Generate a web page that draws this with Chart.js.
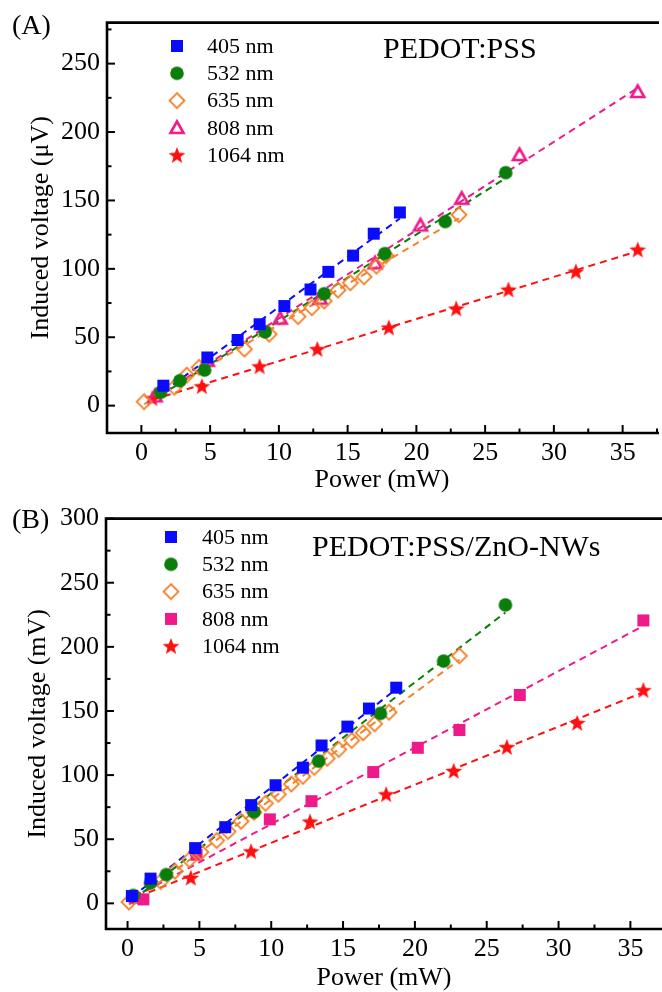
<!DOCTYPE html>
<html>
<head>
<meta charset="utf-8">
<script src="https://cdn.jsdelivr.net/npm/chart.js@4.4.1/dist/chart.umd.min.js"></script>
<style>
  html, body { margin: 0; padding: 0; background: #fff; }
  canvas { display: block; }
</style>
</head>
<body>
<canvas id="cA" width="662" height="496"></canvas>
<canvas id="cB" width="662" height="496"></canvas>
<script>
// ---------------- DATA ----------------
const seriesNames = ['405 nm', '532 nm', '635 nm', '808 nm', '1064 nm'];

// Panel A : PEDOT:PSS  (Power mW, Induced voltage µV)
const a405x  = [1.6, 4.8, 7.0, 8.6, 10.4, 12.3, 13.6, 15.4, 16.9, 18.8];
const a405y  = [14.6, 35.2, 48.0, 59.5, 72.8, 84.9, 97.8, 109.7, 125.7, 141.2];
const a532x  = [1.4, 2.8, 4.6, 9.0, 13.3, 17.7, 22.1, 26.5];
const a532y  = [9.7, 18.2, 26.0, 53.9, 81.8, 111.1, 134.6, 170.3];
const a635x  = [0.2, 2.4, 3.3, 4.2, 7.5, 9.3, 11.4, 12.4, 13.3, 14.3, 15.2, 16.2, 17.1, 17.8, 23.1];
const a635y  = [2.9, 13.4, 22.3, 28.0, 41.3, 52.2, 65.1, 71.6, 76.4, 84.4, 89.8, 94.2, 101.9, 109.7, 139.5];
const a808x  = [1.0, 4.8, 10.1, 13.0, 17.0, 20.3, 23.3, 27.5, 36.1];
const a808y  = [6.8, 32.8, 63.6, 78.2, 104.0, 131.7, 151.2, 183.2, 229.3];
const a1064x = [0.8, 4.4, 8.6, 12.8, 18.0, 22.9, 26.7, 31.6, 36.1];
const a1064y = [5.4, 14.1, 28.7, 41.3, 57.0, 70.9, 84.8, 98.0, 114.0];

// Panel B : PEDOT:PSS/ZnO-NWs  (Power mW, Induced voltage mV)
const b405x  = [0.3, 1.6, 4.7, 6.8, 8.6, 10.3, 12.2, 13.5, 15.3, 16.8, 18.7];
const b405y  = [5.7, 19.3, 43.1, 59.4, 76.6, 92.1, 105.8, 123.1, 137.8, 151.9, 168.2];
const b532x  = [0.4, 1.6, 2.7, 8.8, 13.3, 17.6, 22.0, 26.3];
const b532y  = [6.2, 16.0, 22.4, 71.4, 110.9, 148.1, 188.9, 232.7];
const b635x  = [0.1, 2.3, 3.3, 4.3, 5.1, 6.2, 7.0, 7.9, 8.8, 9.6, 10.5, 11.4, 12.2, 13.0, 13.9, 14.7, 15.6, 16.4, 17.2, 18.2, 23.1];
const b635y  = [1, 17, 25, 34, 40, 49, 56, 64, 71, 78, 85, 93, 99, 106, 113, 120, 127, 133, 140, 149, 193];
const b808x  = [0.5, 1.1, 4.8, 9.9, 12.8, 17.1, 20.2, 23.1, 27.3, 35.9];
const b808y  = [4.4, 3.1, 37.9, 65.5, 79.7, 102.4, 121.3, 135.2, 162.5, 220.6];
const b1064x = [0.7, 4.4, 8.6, 12.7, 18.0, 22.7, 26.4, 31.3, 35.9];
const b1064y = [4.4, 19.9, 40.5, 63.7, 85.0, 103.2, 121.8, 140.6, 166.2];

// tick values
const xTickValues = [0, 2.5, 5, 7.5, 10, 12.5, 15, 17.5, 20, 22.5, 25, 27.5, 30, 32.5, 35, 37.5];
const yTickValuesA = [0, 25, 50, 75, 100, 125, 150, 175, 200, 225, 250, 275];
const yTickValuesB = [0, 25, 50, 75, 100, 125, 150, 175, 200, 225, 250, 275, 300];

// ---------------- STYLE ----------------
const FONT = '"Liberation Serif", "Times New Roman", serif';
const COLORS = { blue: '#0a0aff', green: '#0a7d0a', orange: '#f3822a', pink: '#ef1a8a', red: '#ff1010' };

function mk(size, fn) {
  const c = document.createElement('canvas');
  c.width = size; c.height = size;
  const g = c.getContext('2d');
  fn(g, size / 2);
  return c;
}
const M = {
  square: col => mk(14, (g, c) => { g.fillStyle = col; g.fillRect(c - 6, c - 6, 12, 12); }),
  circle: col => mk(16, (g, c) => { g.fillStyle = col; g.beginPath(); g.arc(c, c, 6.8, 0, Math.PI * 2); g.fill(); }),
  diamond: col => mk(20, (g, c) => {
    g.strokeStyle = col; g.lineWidth = 1.8; g.beginPath();
    g.moveTo(c, c - 7.5); g.lineTo(c + 7.5, c); g.lineTo(c, c + 7.5); g.lineTo(c - 7.5, c); g.closePath(); g.stroke();
  }),
  triangle: col => mk(20, (g, c) => {
    g.strokeStyle = col; g.lineWidth = 2.6; g.lineJoin = 'miter'; g.beginPath();
    g.moveTo(c, c - 6.5); g.lineTo(c + 6.5, c + 5); g.lineTo(c - 6.5, c + 5); g.closePath(); g.stroke();
  }),
  star: col => mk(20, (g, c) => {
    g.fillStyle = col; g.beginPath();
    for (let i = 0; i < 10; i++) {
      const r = i % 2 === 0 ? 8.8 : 3.7;
      const a = -Math.PI / 2 + i * Math.PI / 5;
      const px = c + r * Math.cos(a), py = c + 0.6 + r * Math.sin(a);
      i === 0 ? g.moveTo(px, py) : g.lineTo(px, py);
    }
    g.closePath(); g.fill();
  })
};

function pts(xs, ys) { return xs.map((x, i) => ({ x: x, y: ys[i] })); }
function fit(xs, ys) {
  const n = xs.length;
  const mx = xs.reduce((a, b) => a + b, 0) / n, my = ys.reduce((a, b) => a + b, 0) / n;
  let sxy = 0, sxx = 0;
  for (let i = 0; i < n; i++) { sxy += (xs[i] - mx) * (ys[i] - my); sxx += (xs[i] - mx) ** 2; }
  const k = sxy / sxx, b = my - k * mx;
  const x0 = Math.min(...xs), x1 = Math.max(...xs);
  return [{ x: x0, y: k * x0 + b }, { x: x1, y: k * x1 + b }];
}

function buildDatasets(series) {
  const ds = [];
  series.forEach(s => {
    ds.push({ label: s.name + ' fit', data: fit(s.x, s.y), showLine: true, borderColor: s.color,
      borderWidth: 2, borderDash: [7, 5], pointRadius: 0, pointHoverRadius: 0, order: 2, fill: false });
  });
  series.forEach(s => {
    ds.push({ label: s.name, data: pts(s.x, s.y), showLine: false, pointStyle: s.marker,
      pointRadius: 8, pointHoverRadius: 8, order: 1, backgroundColor: s.color, borderColor: s.color });
  });
  return ds;
}

const framePlugin = {
  id: 'frame',
  afterDraw(chart, args, o) {
    const { ctx, chartArea: ca, scales } = chart;
    ctx.save();
    ctx.strokeStyle = '#000'; ctx.lineWidth = 2;
    scales.x.ticks.forEach(t => {
      const px = scales.x.getPixelForValue(t.value);
      const len = (t.value % 5 === 0) ? 8 : 4.5;
      ctx.beginPath(); ctx.moveTo(px, ca.bottom); ctx.lineTo(px, ca.bottom - len); ctx.stroke();
    });
    scales.y.ticks.forEach(t => {
      const py = scales.y.getPixelForValue(t.value);
      const len = (t.value % 50 === 0) ? 8 : 4.5;
      ctx.beginPath(); ctx.moveTo(ca.left, py); ctx.lineTo(ca.left + len, py); ctx.stroke();
    });
    ctx.lineWidth = 2.6;
    ctx.beginPath();
    ctx.moveTo(ca.right + 2, ca.top); ctx.lineTo(ca.left, ca.top); ctx.lineTo(ca.left, ca.bottom); ctx.lineTo(ca.right + 2, ca.bottom);
    ctx.stroke();
    ctx.fillStyle = '#000';
    ctx.textBaseline = 'alphabetic'; ctx.textAlign = 'left';
    ctx.font = '28px ' + FONT;
    ctx.fillText(o.panel, o.panelX, o.panelY);
    ctx.font = '30px ' + FONT;
    ctx.fillText(o.title, o.titleX, o.titleY);
    ctx.font = '22px ' + FONT;
    ctx.textBaseline = 'middle';
    o.series.forEach((s, i) => {
      const y = o.legY + i * o.legStep;
      ctx.drawImage(s.marker, o.legMX - s.marker.width / 2, y - s.marker.height / 2);
      ctx.fillText(s.name, o.legTX, y + 1);
    });
    ctx.restore();
  }
};

function makeChart(id, cfg) {
  const series = cfg.series;
  return new Chart(document.getElementById(id), {
    type: 'scatter',
    data: { datasets: buildDatasets(series) },
    plugins: [framePlugin],
    options: {
      responsive: false, animation: false, devicePixelRatio: 1,
      layout: { padding: { top: cfg.top, left: 0, right: 0, bottom: 0 }, autoPadding: false },
      plugins: { legend: { display: false }, tooltip: { enabled: false },
        frame: { panel: cfg.panel, panelX: cfg.panelX, panelY: cfg.panelY, title: cfg.title, titleX: cfg.titleX, titleY: cfg.titleY,
          series: series, legMX: cfg.legMX, legTX: cfg.legTX, legY: cfg.legY, legStep: cfg.legStep } },
      elements: { point: { borderWidth: 0 } },
      scales: {
        x: {
          type: 'linear', min: cfg.xmin, max: cfg.xmax,
          afterBuildTicks: s => { s.ticks = xTickValues.filter(v => v >= s.min && v <= s.max).map(v => ({ value: v })); },
          afterFit: s => { s.height = cfg.xh; },
          grid: { display: false, drawTicks: false },
          border: { display: false },
          ticks: { color: '#000', font: { family: FONT, size: 26 }, padding: cfg.xpad, maxRotation: 0, autoSkip: false,
            callback: v => (v % 5 === 0 ? String(v) : '') },
          title: { display: true, text: 'Power (mW)', color: '#000', font: { family: FONT, size: 26, lineHeight: 1 }, padding: { top: 0, bottom: cfg.xtpad } }
        },
        y: {
          type: 'linear', min: cfg.ymin, max: cfg.ymax,
          afterBuildTicks: s => { s.ticks = cfg.yTicks.map(v => ({ value: v })); },
          afterFit: s => { s.width = cfg.yw; },
          grid: { display: false, drawTicks: false },
          border: { display: false },
          ticks: { color: '#000', font: { family: FONT, size: 26 }, padding: 7, autoSkip: false,
            callback: v => (v % 50 === 0 ? String(v) : '') },
          title: { display: true, text: cfg.ytitle, color: '#000', font: { family: FONT, size: 26, lineHeight: 1 }, padding: { top: cfg.ytpad, bottom: 0 } }
        }
      }
    }
  });
}

makeChart('cA', {
  series: [
    { name: seriesNames[0], x: a405x, y: a405y, color: COLORS.blue, marker: M.square(COLORS.blue) },
    { name: seriesNames[1], x: a532x, y: a532y, color: COLORS.green, marker: M.circle(COLORS.green) },
    { name: seriesNames[2], x: a635x, y: a635y, color: COLORS.orange, marker: M.diamond(COLORS.orange) },
    { name: seriesNames[3], x: a808x, y: a808y, color: COLORS.pink, marker: M.triangle(COLORS.pink) },
    { name: seriesNames[4], x: a1064x, y: a1064y, color: COLORS.red, marker: M.star(COLORS.red) }
  ],
  top: 21, xh: 63, yw: 107, xmin: -2.5, xmax: 37.5, ymin: -20, ymax: 280, yTicks: yTickValuesA,
  xpad: 5, xtpad: 3, ytpad: 28, ytitle: 'Induced voltage (\u03bcV)',
  panel: '(A)', panelX: 12, panelY: 34, title: 'PEDOT:PSS', titleX: 383, titleY: 58,
  legMX: 177, legTX: 207, legY: 46, legStep: 27.3
});

makeChart('cB', {
  series: [
    { name: seriesNames[0], x: b405x, y: b405y, color: COLORS.blue, marker: M.square(COLORS.blue) },
    { name: seriesNames[1], x: b532x, y: b532y, color: COLORS.green, marker: M.circle(COLORS.green) },
    { name: seriesNames[2], x: b635x, y: b635y, color: COLORS.orange, marker: M.diamond(COLORS.orange) },
    { name: seriesNames[3], x: b808x, y: b808y, color: COLORS.pink, marker: M.square(COLORS.pink) },
    { name: seriesNames[4], x: b1064x, y: b1064y, color: COLORS.red, marker: M.star(COLORS.red) }
  ],
  top: 19, xh: 63, yw: 106, xmin: -1.5, xmax: 37.2, ymin: -20, ymax: 300, yTicks: yTickValuesB,
  xpad: 5, xtpad: 1, ytpad: 25, ytitle: 'Induced voltage (mV)',
  panel: '(B)', panelX: 12, panelY: 32, title: 'PEDOT:PSS/ZnO-NWs', titleX: 312, titleY: 60,
  legMX: 171, legTX: 202, legY: 41, legStep: 27.3
});
</script>
</body>
</html>
